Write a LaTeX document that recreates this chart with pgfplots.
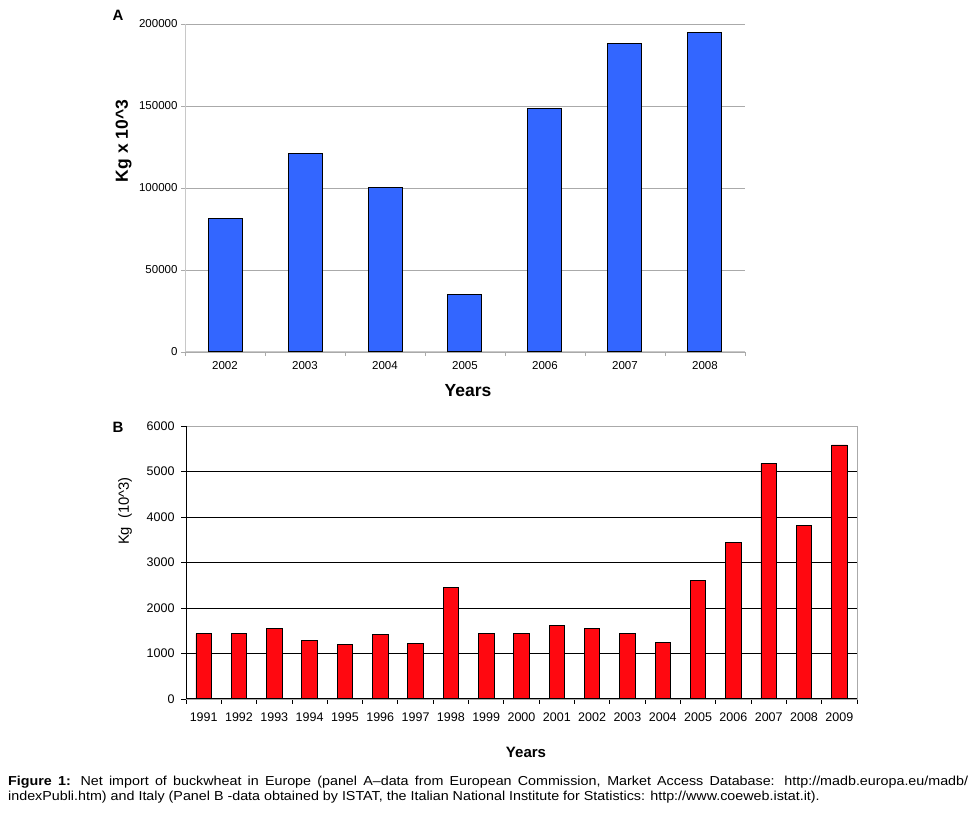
\documentclass[border=0pt]{standalone}
\usepackage{pgfplots}
\pgfplotsset{compat=1.18}
\usepackage{fontspec}
\setmainfont{Liberation Sans}
\newfontfamily\capfont[FakeStretch=1.1]{Liberation Sans}

\definecolor{barblue}{RGB}{51,102,255}
\definecolor{barred}{RGB}{255,8,16}
\definecolor{gridgray}{RGB}{170,170,170}
\definecolor{axgray}{RGB}{200,200,200}

\begin{document}
\begin{tikzpicture}
\useasboundingbox (0pt,0pt) rectangle (978pt,818pt);

% ---------- panel A: Europe ----------
\begin{axis}[
    at={(185pt,466pt)}, anchor=south west,
    scale only axis,
    width=560pt, height=328pt,
    xmin=-0.5, xmax=6.5,
    ymin=0, ymax=200000,
    axis x line=bottom, axis y line=left,
    axis line style={axgray, line width=1pt, -},
    ybar, bar width=34pt,
    ytick={0,50000,...,200000},
    scaled y ticks=false,
    ymajorgrids,
    major grid style={gridgray, line width=0.8pt},
    xtick={0,...,6},
    xticklabels={2002,2003,2004,2005,2006,2007,2008},
    major x tick style={draw=none},
    minor xtick={-0.5,0.5,...,6.5},
    minor tick length=4pt,
    major tick length=4pt,
    tick align=outside,
    tick style={gridgray, line width=0.8pt},
    ticklabel style={font=\fontsize{11.5}{12}\selectfont},
    xticklabel style={yshift=-2pt},
    /pgf/number format/assume math mode=true,
    yticklabel style={/pgf/number format/fixed, /pgf/number format/1000 sep={}},
]
\addplot[fill=barblue, draw=black, line width=1pt] coordinates {
    (0,81500) (1,121000) (2,100000) (3,35200) (4,148200) (5,188200) (6,194900)
};
\end{axis}
\node[font=\bfseries\fontsize{15}{16}\selectfont] at (118pt,803pt) {A};
\node[rotate=90, font=\bfseries\fontsize{17.5}{18}\selectfont] at (123.5pt,677pt) {Kg x 10\textasciicircum 3};
\node[font=\bfseries\fontsize{17.5}{18}\selectfont] at (468pt,427pt) {Years};

% ---------- panel B: Italy ----------
\begin{axis}[
    at={(186pt,119pt)}, anchor=south west,
    scale only axis,
    width=671pt, height=273pt,
    xmin=-0.5, xmax=18.5,
    ymin=0, ymax=6000,
    axis line style={gridgray, line width=0.8pt},
    ybar, bar width=15.5pt,
    ytick={0,1000,...,6000},
    extra y ticks={1000,2000,3000,4000,5000},
    extra y tick labels={},
    extra y tick style={grid=major, major grid style={black, line width=0.8pt}, major tick length=0pt},
    scaled y ticks=false,
    xtick={0,...,18},
    xticklabels={1991,1992,1993,1994,1995,1996,1997,1998,1999,2000,2001,2002,2003,2004,2005,2006,2007,2008,2009},
    major x tick style={draw=none},
    minor xtick={-0.5,0.5,...,18.5},
    minor tick length=5pt,
    major tick length=5pt,
    tick align=outside,
    tick pos=left,
    tick style={black, line width=0.8pt},
    ticklabel style={font=\fontsize{12.5}{13}\selectfont},
    xticklabel style={yshift=-5pt},
    /pgf/number format/assume math mode=true,
    yticklabel style={xshift=-3pt, /pgf/number format/fixed, /pgf/number format/1000 sep={}},
]
\addplot[fill=barred, draw=black, line width=0.8pt] coordinates {
    (0,1433) (1,1435) (2,1559) (3,1295) (4,1207) (5,1412) (6,1229) (7,2459)
    (8,1449) (9,1433) (10,1625) (11,1559) (12,1449) (13,1251) (14,2612)
    (15,3447) (16,5181) (17,3820) (18,5583)
};
\draw[black, line width=1pt] (rel axis cs:0,1) -- (rel axis cs:0,0) -- (rel axis cs:1,0);
\end{axis}
\node[font=\bfseries\fontsize{15}{16}\selectfont] at (118pt,391pt) {B};
\node[rotate=90, font=\fontsize{14.8}{15}\selectfont] at (125pt,307pt) {Kg\ \ (10\textasciicircum 3)};
\node[font=\bfseries\fontsize{15}{16}\selectfont] at (526pt,66pt) {Years};

% ---------- caption ----------
\node[anchor=north west, inner sep=0pt, text width=960pt, align=justify,
      font=\capfont\fontsize{13}{14.7}\selectfont] at (8pt,42pt)
  {\textbf{Figure 1:} Net import of buckwheat in Europe (panel A–data from European Commission, Market Access Database: http://madb.europa.eu/madb/\linebreak
   indexPubli.htm) and Italy (Panel B -data obtained by ISTAT, the Italian National Institute for Statistics: http://www.coeweb.istat.it).\par};
\end{tikzpicture}
\end{document}
